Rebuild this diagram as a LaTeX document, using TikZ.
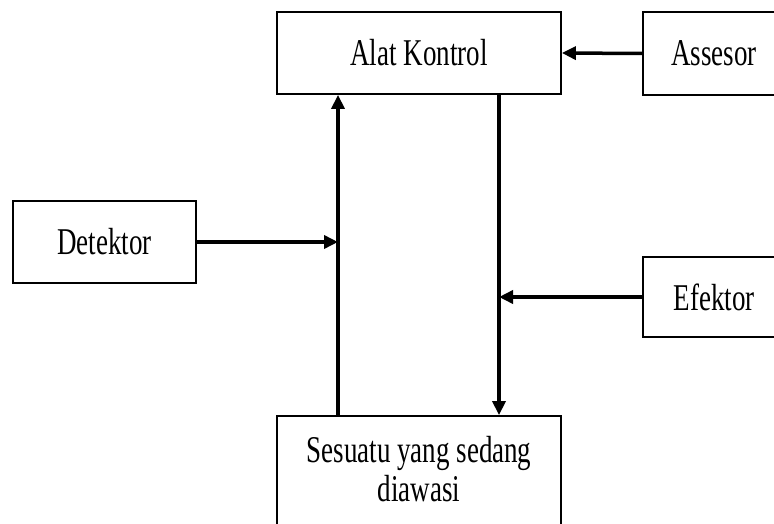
\documentclass[tikz,border=0pt]{standalone}
\usepackage{fontspec}
\setmainfont{Liberation Serif}
\usetikzlibrary{arrows.meta}
\tikzset{
    blok/.style={draw,line width=1.8pt,inner sep=0pt,font=\fontsize{27}{32}\selectfont},
    panah/.style={line width=3.5pt,-{Triangle[length=14pt,width=13pt]}}
}
\newcommand{\tinggi}[1]{\scalebox{1}[1.4]{#1}}
\begin{document}
\begin{tikzpicture}[x=1pt,y=-1pt]
    \useasboundingbox (0,0) rectangle (774,524);
    \clip (0,0) rectangle (774,524);
    \node[blok,minimum width=284pt,minimum height=82pt] (kontrol) at (419,53) {\tinggi{Alat Kontrol}};
    \node[blok,minimum width=142pt,minimum height=83pt] (assesor) at (714,53.5) {\tinggi{Assesor}};
    \node[blok,minimum width=183pt,minimum height=82pt] (detektor) at (104.5,242) {\tinggi{Detektor}};
    \node[blok,minimum width=142pt,minimum height=80pt] (efektor) at (714,297) {\tinggi{Efektor}};
    \node[blok,minimum width=284pt,minimum height=114pt] (sesuatu) at (419,473)
        {\tinggi{\begin{tabular}{@{}c@{}}Sesuatu yang sedang\\[-4pt]diawasi\end{tabular}}};
    \coordinate (naik) at (338,0);
    \coordinate (turun) at (499,0);
    \draw[panah] (sesuatu.north -| naik) -- (kontrol.south -| naik);
    \draw[panah] (kontrol.south -| turun) -- (sesuatu.north -| turun);
    \draw[panah] (detektor.east) -- (detektor.east -| naik);
    \draw[panah] (efektor.west) -- (efektor.west -| turun);
    \draw[panah] (assesor.west) -- (kontrol.east);
\end{tikzpicture}
\end{document}
